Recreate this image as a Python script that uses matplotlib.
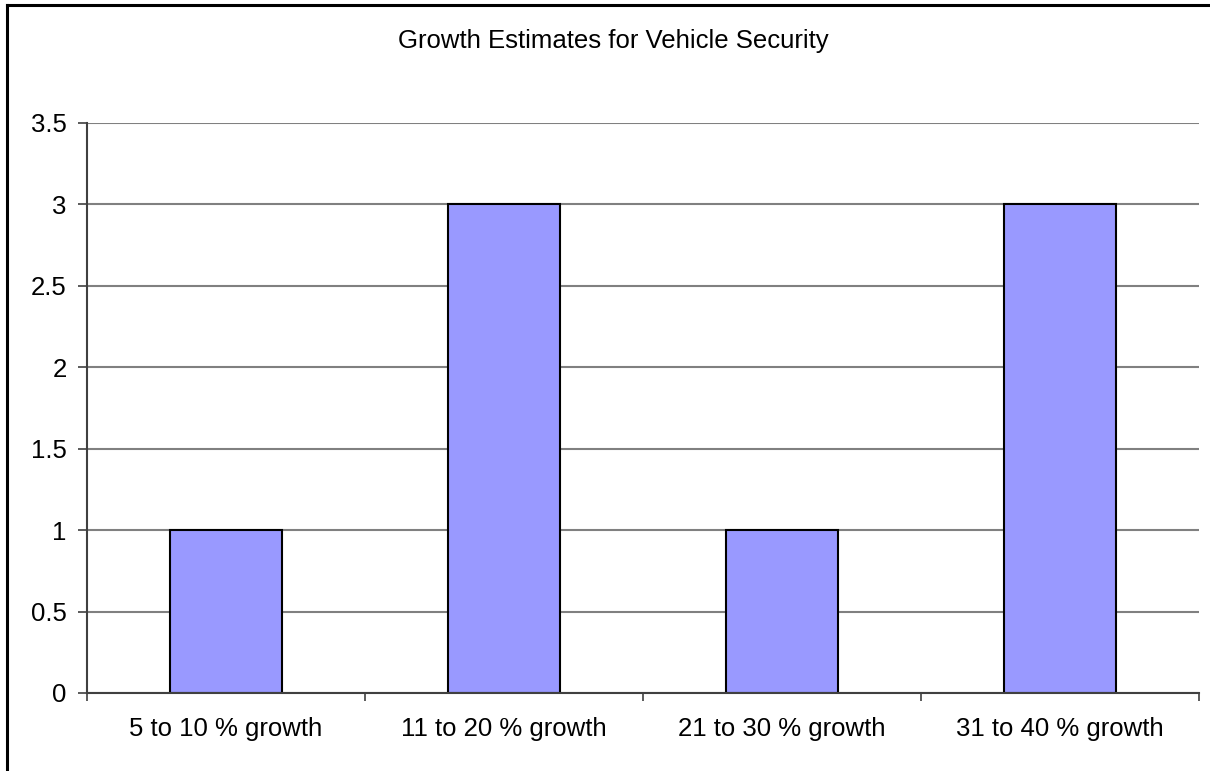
import numpy as np
import matplotlib.pyplot as plt
from matplotlib.lines import Line2D

categories = ["5 to 10 % growth", "11 to 20 % growth", "21 to 30 % growth", "31 to 40 % growth"]
values = [1, 3, 1, 3]
yticks = [0, 0.5, 1, 1.5, 2, 2.5, 3, 3.5]

plt.rcParams['font.family'] = ['Liberation Sans', 'DejaVu Sans']

W, H = 1210, 771
fig = plt.figure(figsize=(W / 100, H / 100), dpi=100)
# plot area in pixels: left 87, right 1199, top 123, bottom 693
ax = fig.add_axes([87 / W, 1 - 693 / H, (1199 - 87) / W, (693 - 123) / H])

x = np.arange(len(categories))
ax.bar(x, values, width=0.403, color="#9999FF", edgecolor="black", linewidth=1.5, zorder=3)

ax.set_xlim(-0.5, len(categories) - 0.5)
ax.set_ylim(0, 3.5)
ax.set_yticks(yticks)
ax.set_yticklabels([f"{v:g}" for v in yticks], fontsize=18.5)
ax.grid(axis="y", color="#808080", linewidth=1.5, zorder=0)

# category labels centered, tick marks at boundaries
ax.set_xticks(x)
ax.set_xticklabels(categories, fontsize=18.5)
ax.tick_params(axis="x", length=0, pad=17)
ax.set_xticks(np.arange(len(categories) + 1) - 0.5, minor=True)
ax.tick_params(axis="x", which="minor", length=6, width=1.2, color="#404040")
ax.tick_params(axis="y", length=6.5, width=1.2, color="#404040", pad=8)

for side in ["top", "right"]:
    ax.spines[side].set_visible(False)
for side in ["left", "bottom"]:
    ax.spines[side].set_color("#404040")
    ax.spines[side].set_linewidth(1.5)
ax.spines["left"].set_zorder(4)
ax.spines["bottom"].set_zorder(4)

fig.text(613 / W, 1 - 41 / H, "Growth Estimates for Vehicle Security", ha="center", va="center", fontsize=18.5)

# outer frame (only top and left edges fall inside the image)
fig.add_artist(Line2D([7 / W, 1], [1 - 5 / H, 1 - 5 / H], transform=fig.transFigure, color="black", linewidth=2.2))
fig.add_artist(Line2D([7 / W, 7 / W], [0, 1 - 5 / H], transform=fig.transFigure, color="black", linewidth=2.2))

fig.savefig("out.png", dpi=100)
